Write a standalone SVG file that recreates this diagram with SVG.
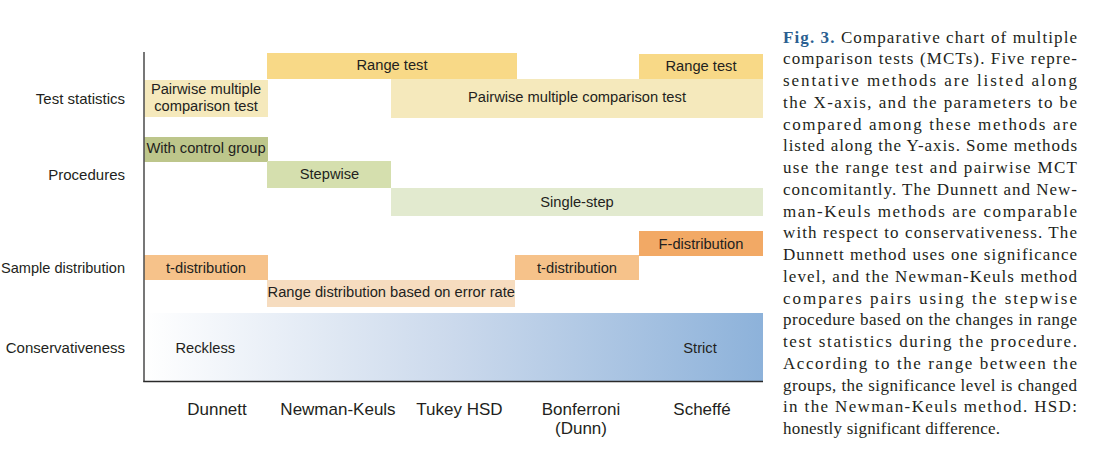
<svg xmlns="http://www.w3.org/2000/svg" width="1098" height="460" viewBox="0 0 1098 460">
<style>
.lbl{font-family:"Liberation Sans",Arial,sans-serif;font-size:14.7px;fill:#231f20}
.ylbl{font-family:"Liberation Sans",Arial,sans-serif;font-size:15px;fill:#231f20;text-anchor:end}
.xlbl{font-family:"Liberation Sans",Arial,sans-serif;font-size:17px;fill:#231f20;text-anchor:middle}
.box{font-family:"Liberation Sans",Arial,sans-serif;font-size:14.7px;fill:#231f20;text-anchor:middle}
.cap{font-family:"Liberation Serif","Times New Roman",serif;font-size:17px;fill:#231f20}
.range{fill:#f8d987}.pair{fill:#f5e9bc}.ctrl{fill:#bdc68b}.step{fill:#d5dfae}.single{fill:#e2eacf}
.tdist{fill:#f6c28a}.rdist{fill:#f6dcbf}.fdist{fill:#f2a965}
</style>
<defs>
<linearGradient id="cons" x1="0" y1="0" x2="1" y2="0">
<stop offset="0" stop-color="#ffffff"/>
<stop offset="0.5" stop-color="#cbd9ec"/>
<stop offset="1" stop-color="#8db2da"/>
</linearGradient>
</defs>
<rect width="1098" height="460" fill="#ffffff"/>

<g id="conservativeness">
<rect x="144" y="313" width="619" height="68" fill="url(#cons)"/>
<text class="lbl" x="175.5" y="353">Reckless</text>
<text class="box" x="700" y="353">Strict</text>
</g>

<g id="range-test-1"><rect class="range" x="267" y="53" width="250" height="26"/><text class="box" x="392" y="70">Range test</text></g>
<g id="range-test-2"><rect class="range" x="639" y="54" width="124" height="25"/><text class="box" x="701" y="71">Range test</text></g>
<g id="pairwise-1"><rect class="pair" x="144" y="80" width="124" height="37"/><text class="box" x="206" y="94">Pairwise multiple</text><text class="box" x="206" y="110.5">comparison test</text></g>
<g id="pairwise-2"><rect class="pair" x="391" y="79" width="372" height="39"/><text class="box" x="577" y="102">Pairwise multiple comparison test</text></g>
<g id="with-control"><rect class="ctrl" x="144" y="137" width="124" height="25"/><text class="box" x="206" y="153">With control group</text></g>
<g id="stepwise"><rect class="step" x="267" y="161" width="124" height="27"/><text class="box" x="329.5" y="179">Stepwise</text></g>
<g id="single-step"><rect class="single" x="391" y="188" width="372" height="28"/><text class="box" x="577" y="207">Single-step</text></g>
<g id="f-dist"><rect class="fdist" x="639" y="231" width="124" height="25"/><text class="box" x="701" y="249">F-distribution</text></g>
<g id="t-dist-1"><rect class="tdist" x="144" y="255" width="124" height="25"/><text class="box" x="206" y="273">t-distribution</text></g>
<g id="t-dist-2"><rect class="tdist" x="515" y="255" width="124" height="25"/><text class="box" x="577" y="273">t-distribution</text></g>
<g id="range-dist"><rect class="rdist" x="267" y="280" width="248" height="27"/><text class="box" x="391.3" y="297">Range distribution based on error rate</text></g>

<g id="connectors">
<line x1="144" y1="52" x2="144" y2="381.5" stroke="#555555" stroke-width="1.6"/>
<line x1="143.2" y1="381.5" x2="763" y2="381.5" stroke="#2a2a2a" stroke-width="1.6"/>
</g>

<g id="y-labels">
<text class="ylbl" x="125" y="104">Test statistics</text>
<text class="ylbl" x="125" y="180">Procedures</text>
<text class="ylbl" x="125" y="272.5" textLength="124" lengthAdjust="spacingAndGlyphs">Sample distribution</text>
<text class="ylbl" x="125" y="353">Conservativeness</text>
</g>

<g id="x-labels">
<text class="xlbl" x="217" y="415">Dunnett</text>
<text class="xlbl" x="338" y="415">Newman-Keuls</text>
<text class="xlbl" x="459.5" y="415">Tukey HSD</text>
<text class="xlbl" x="581" y="415">Bonferroni</text>
<text class="xlbl" x="581" y="434">(Dunn)</text>
<text class="xlbl" x="702" y="415">Scheffé</text>
</g>

<g id="caption" class="cap">
<text x="783" y="42.7" textLength="294" lengthAdjust="spacing"><tspan font-weight="bold" fill="#2b5f91">Fig. 3.</tspan> Comparative chart of multiple</text>
<text x="783" y="64.4" textLength="294" lengthAdjust="spacing">comparison tests (MCTs). Five repre-</text>
<text x="783" y="86.2" textLength="294" lengthAdjust="spacing">sentative methods are listed along</text>
<text x="783" y="107.9" textLength="294" lengthAdjust="spacing">the X-axis, and the parameters to be</text>
<text x="783" y="129.7" textLength="294" lengthAdjust="spacing">compared among these methods are</text>
<text x="783" y="151.4" textLength="294" lengthAdjust="spacing">listed along the Y-axis. Some methods</text>
<text x="783" y="173.1" textLength="294" lengthAdjust="spacing">use the range test and pairwise MCT</text>
<text x="783" y="194.9" textLength="294" lengthAdjust="spacing">concomitantly. The Dunnett and New-</text>
<text x="783" y="216.6" textLength="294" lengthAdjust="spacing">man-Keuls methods are comparable</text>
<text x="783" y="238.4" textLength="294" lengthAdjust="spacing">with respect to conservativeness. The</text>
<text x="783" y="260.1" textLength="294" lengthAdjust="spacing">Dunnett method uses one significance</text>
<text x="783" y="281.8" textLength="294" lengthAdjust="spacing">level, and the Newman-Keuls method</text>
<text x="783" y="303.6" textLength="294" lengthAdjust="spacing">compares pairs using the stepwise</text>
<text x="783" y="325.3" textLength="294" lengthAdjust="spacing">procedure based on the changes in range</text>
<text x="783" y="347.1" textLength="294" lengthAdjust="spacing">test statistics during the procedure.</text>
<text x="783" y="368.8" textLength="294" lengthAdjust="spacing">According to the range between the</text>
<text x="783" y="390.5" textLength="294" lengthAdjust="spacing">groups, the significance level is changed</text>
<text x="783" y="412.3" textLength="294" lengthAdjust="spacing">in the Newman-Keuls method. HSD:</text>
<text x="783" y="434" textLength="217" lengthAdjust="spacing">honestly significant difference.</text>
</g>
</svg>
